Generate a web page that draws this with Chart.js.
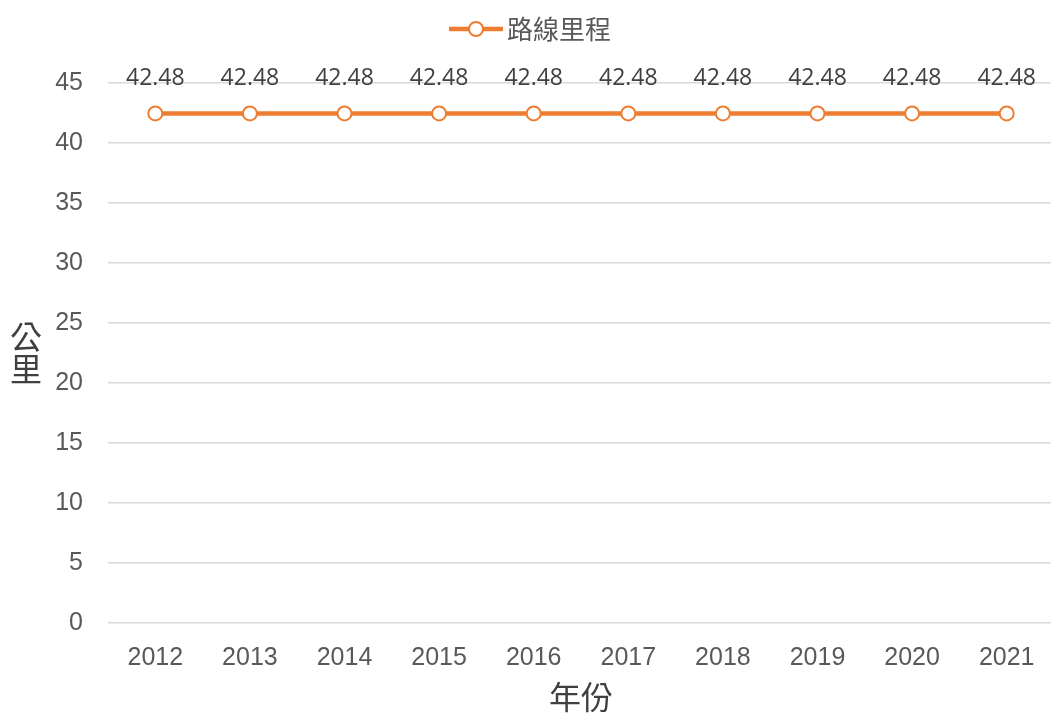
<!DOCTYPE html>
<html>
<head>
<meta charset="utf-8">
<script src="https://cdn.jsdelivr.net/npm/chart.js@4.4.1/dist/chart.umd.min.js"></script>
<style>
html,body{margin:0;padding:0;background:#fff;}
#wrap{width:1051px;height:716px;position:relative;}
</style>
</head>
<body>
<div id="wrap"><canvas id="c" width="1051" height="716"></canvas></div>
<script>
const categories = ['2012','2013','2014','2015','2016','2017','2018','2019','2020','2021'];
const routeLength = [42.48,42.48,42.48,42.48,42.48,42.48,42.48,42.48,42.48,42.48];
const seriesName = '路線里程';
const yTitle = ['公','里'];
const xTitle = '年份';

const ORANGE = '#ED7D31';

function legendIcon(){
  const c = document.createElement('canvas');
  c.width = 64; c.height = 18;
  const x = c.getContext('2d');
  x.strokeStyle = ORANGE; x.lineWidth = 4.5; x.lineCap = 'butt';
  x.beginPath(); x.moveTo(10,9); x.lineTo(64,9); x.stroke();
  x.beginPath(); x.arc(37,9,7,0,Math.PI*2);
  x.fillStyle = '#fff'; x.fill();
  x.lineWidth = 2; x.stroke();
  return c;
}
const icon = legendIcon();

const PLOT_RIGHT = 1054;

const labelPlugin = {
  id:'labels',
  afterLayout(chart){
    const xs = chart.scales.x;
    xs.right = PLOT_RIGHT;
    xs.width = PLOT_RIGHT - xs.left;
    xs.configure();
    chart.chartArea.right = PLOT_RIGHT;
    chart.chartArea.width = PLOT_RIGHT - chart.chartArea.left;
  },
  afterDatasetsDraw(chart){
    const ctx = chart.ctx;
    const meta = chart.getDatasetMeta(0);
    ctx.save();
    ctx.font = '23px "Open Sans"';
    ctx.fillStyle = '#404040';
    ctx.textAlign = 'center';
    ctx.textBaseline = 'middle';
    meta.data.forEach((p,i)=>{
      ctx.fillText(routeLength[i].toFixed(2), p.x, p.y - 35);
    });
    ctx.restore();
  },
  afterDraw(chart){
    const ctx = chart.ctx;
    const a = chart.chartArea;
    const cy = (a.top + a.bottom)/2;
    ctx.save();
    ctx.font = '32px "Noto Sans CJK TC"';
    ctx.fillStyle = '#404040';
    ctx.textAlign = 'center';
    ctx.textBaseline = 'middle';
    ctx.fillText(yTitle[0], 26, cy - 16);
    ctx.fillText(yTitle[1], 26, cy + 16);
    ctx.restore();
  }
};

new Chart(document.getElementById('c'), {
  type:'line',
  data:{
    labels: categories,
    datasets:[{
      label: seriesName,
      data: routeLength,
      borderColor: ORANGE,
      borderWidth: 4.5,
      pointRadius: 7,
      pointHoverRadius: 7,
      pointBackgroundColor: '#fff',
      pointBorderColor: ORANGE,
      pointBorderWidth: 2,
      tension: 0,
      pointStyle: 'circle'
    }]
  },
  options:{
    responsive:false,
    animation:false,
    layout:{autoPadding:false, padding:{left:8,right:0,top:6,bottom:0}},
    plugins:{
      legend:{
        display:true,
        position:'top',
        weight:1000,
        labels:{
          usePointStyle:true,
          pointStyleWidth:46,
          generateLabels(chart){
            return [{text:seriesName, pointStyle:icon, fontColor:'#595959', datasetIndex:0, lineWidth:0, strokeStyle:'rgba(0,0,0,0)', fillStyle:'rgba(0,0,0,0)'}];
          },
          font:{family:'"Noto Sans CJK TC"', size:26},
          color:'#595959',
          padding:10
        }
      },
      subtitle:{
        display:true,
        text:' ',
        weight:500,
        position:'top',
        font:{size:1},
        padding:{top:30,bottom:0}
      },
      tooltip:{enabled:false}
    },
    scales:{
      x:{
        type:'category',
        offset:true,
        grid:{display:false, drawTicks:false},
        border:{display:false},
        ticks:{font:{family:'"Liberation Sans"', size:25}, color:'#595959', padding:20, maxRotation:0},
        title:{display:true, text:xTitle, font:{family:'"Noto Sans CJK TC"', size:32}, color:'#404040', padding:{top:2,bottom:0}},
        afterFit(s){ s.height = 93; s.paddingLeft = 0; s.paddingRight = 0; }
      },
      y:{
        min:0, max:45,
        ticks:{stepSize:5, font:{family:'"Liberation Sans"', size:25}, color:'#595959', padding:25},
        grid:{color:'#D9D9D9', lineWidth:1.5, drawTicks:false},
        border:{display:false},
        afterFit(s){ s.width = 100; }
      }
    }
  },
  plugins:[labelPlugin]
});
</script>
</body>
</html>
